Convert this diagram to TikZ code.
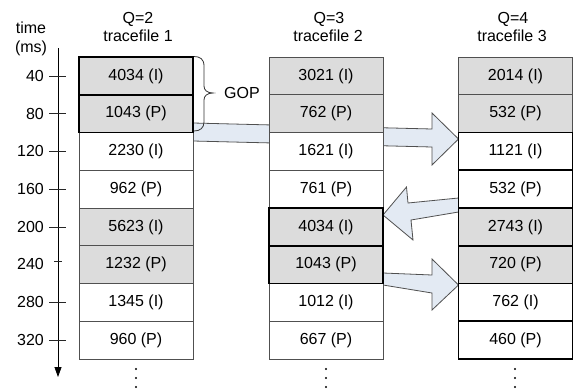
\documentclass[tikz,border=0pt]{standalone}
\usepackage{fontspec}
\setmainfont{Liberation Sans}
\usetikzlibrary{arrows.meta}
\definecolor{cellgray}{HTML}{DCDCDC}
\definecolor{arrowfill}{HTML}{E3EAF3}
\definecolor{edgegray}{HTML}{505050}
\begin{document}
\begin{tikzpicture}[x=1pt,y=-1pt,
  font=\fontsize{16}{18}\selectfont,
  cell/.style={draw=edgegray, line width=0.9pt, minimum width=114pt, minimum height=37.75pt,
    inner sep=0pt, outer sep=0pt, anchor=north west},
  grey/.style={cell, fill=cellgray},
  plain/.style={cell, fill=white},
  thickb/.style={draw=black, line width=1.9pt},
  blockarrow/.style={fill=arrowfill, draw=edgegray, line width=0.8pt, line join=miter},
  tick/.style={draw=black!85, line width=0.8pt},
  ticklabel/.style={anchor=east, inner sep=0pt},
  head/.style={anchor=base, inner sep=0pt}]
\fill[white] (0,0) rectangle (574,389);
\useasboundingbox (0,0) rectangle (574,389);

% block arrows (behind the columns)
\draw[blockarrow] (193,123) -- (432,129) -- (432,113) -- (458.5,139) -- (432,165) -- (432,147) -- (193,141) -- cycle;
\draw[blockarrow] (458.5,198) -- (408,203) -- (406.5,187) -- (383,215) -- (413,240) -- (411,220) -- (458.5,212) -- cycle;
\draw[blockarrow] (383,273) -- (432,275) -- (432,259) -- (458.5,285) -- (432,310) -- (432,293) -- (383,285) -- cycle;

% headers
\node[head] (q1) at (138,23.5) {Q=2};
\node[head] (t1) at (138,41.7) {tracefile 1};
\node[head] (q2) at (329,23.5) {Q=3};
\node[head] (t2) at (328,41.7) {tracefile 2};
\node[head] (q3) at (513,23.5) {Q=4};
\node[head] (t3) at (512,41.7) {tracefile 3};

% time axis
\node[head] (tm) at (31,33) {time};
\node[head] (ms) at (31,52) {(ms)};
\coordinate (axtop) at (58,48);
\coordinate (axend) at (58,377);
\draw[line width=0.8pt, -{Triangle[length=10pt,width=7pt]}] (axtop) -- (axend);
\foreach \v/\y in {40/75.9,80/113.6,120/151.4,160/189.1,200/226.9,280/302.4,320/340.1}{
  \draw[tick] (49,\y) -- (66,\y);
  \node[ticklabel] at (44,\y) {\v};
}
\draw[tick] (54,261.5) -- (62,261.5);
\node[ticklabel] at (44,264) {240};

% column 1
\node[grey]  (c1r1) at (79,57)     {4034 (I)};
\node[grey]  (c1r2) at (79,94.75)  {1043 (P)};
\node[plain] (c1r3) at (79,132.5)  {2230 (I)};
\node[plain] (c1r4) at (79,170.25) {962 (P)};
\node[grey]  (c1r5) at (79,208)    {5623 (I)};
\node[grey]  (c1r6) at (79,245.75) {1232 (P)};
\node[plain] (c1r7) at (79,283.5)  {1345 (I)};
\node[plain] (c1r8) at (79,321.25) {960 (P)};
% column 2
\node[grey]  (c2r1) at (269,57)     {3021 (I)};
\node[grey]  (c2r2) at (269,94.75)  {762 (P)};
\node[plain] (c2r3) at (269,132.5)  {1621 (I)};
\node[plain] (c2r4) at (269,170.25) {761 (P)};
\node[grey]  (c2r5) at (269,208)    {4034 (I)};
\node[grey]  (c2r6) at (269,245.75) {1043 (P)};
\node[plain] (c2r7) at (269,283.5)  {1012 (I)};
\node[plain] (c2r8) at (269,321.25) {667 (P)};
% column 3
\node[grey]  (c3r1) at (458.5,57)     {2014 (I)};
\node[grey]  (c3r2) at (458.5,94.75)  {532 (P)};
\node[plain] (c3r3) at (458.5,132.5)  {1121 (I)};
\node[plain] (c3r4) at (458.5,170.25) {532 (P)};
\node[grey]  (c3r5) at (458.5,208)    {2743 (I)};
\node[grey]  (c3r6) at (458.5,245.75) {720 (P)};
\node[plain] (c3r7) at (458.5,283.5)  {762 (I)};
\node[plain] (c3r8) at (458.5,321.25) {460 (P)};

% thick outlines
\foreach \c in {c1r1,c1r2,c2r5,c2r6,c3r3,c3r4,c3r5,c3r6,c3r7,c3r8}{
  \draw[thickb] (\c.north west) rectangle (\c.south east);
}

% GOP brace
\draw[draw=black!80, line width=0.8pt] (194,56.5) .. controls (200,56.5) and (204,59) .. (204,66)
  -- (204,86) .. controls (204,90) and (207,93) .. (213,93)
  .. controls (207,93) and (204,96) .. (204,100)
  -- (204,122) .. controls (204,128) and (200,131) .. (194,131);
\node (gop) at (242,93) {GOP};

% continuation dots
\foreach \x in {136,326,515}{
  \foreach \y in {369,378,387}{
    \fill (\x,\y) circle (1.2);
  }
}
\end{tikzpicture}
\end{document}
